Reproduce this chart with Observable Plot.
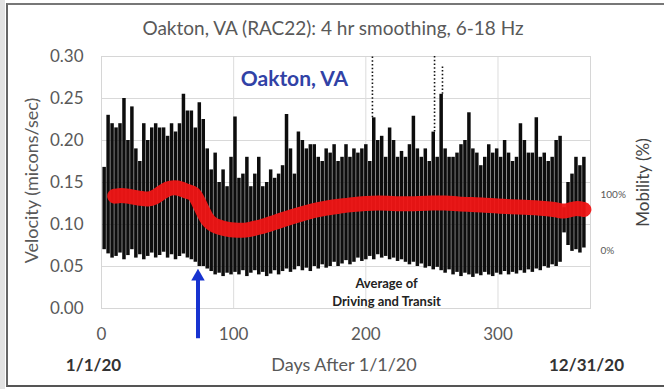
<!DOCTYPE html>
<html><head><meta charset="utf-8">
<script src="https://cdn.jsdelivr.net/npm/d3@7"></script>
<script src="https://cdn.jsdelivr.net/npm/@observablehq/plot@0.6"></script>
<style>
body{margin:0;background:#fff;}
#wrap{position:relative;width:664px;height:389px;overflow:hidden;background:#fff;}
#strip{position:absolute;left:0;top:0;width:5px;height:389px;background:#e2e2e2;}
#border{position:absolute;left:6px;top:3px;width:670px;height:384px;box-sizing:border-box;border-left:2px solid #666;border-top:2px solid #777;border-bottom:2px solid #555;}
#wrap svg{position:absolute;left:0;top:0;}
</style></head><body><div id="wrap"><div id="strip"></div><div id="border"></div></div>
<script>
// ---- data ----
const titleText = "Oakton, VA (RAC22): 4 hr smoothing, 6-18 Hz";
const placeLabel = "Oakton, VA";
const noteText = "Average of\nDriving and Transit";
const xLabel = "Days After 1/1/20";
const yLabel = "Velocity (micons/sec)";
const y2Label = "Mobility (%)";
const startLabel = "1/1/20";
const endLabel = "12/31/20";
const xTicks = [0, 100, 200, 300];
const yTicks = [0, 0.05, 0.10, 0.15, 0.20, 0.25, 0.30];
const mobTicks = [0, 100];
const mobTickLabels = ["0%", "100%"];
// right axis alignment: velocity at 0% and 100% mobility
const mob0 = 0.069, mob100 = 0.135;

// black 4-hr velocity trace: envelope per 3-day bin
const days = [2,5,8,11,14,17,20,23,26,29,32,35,38,41,44,47,50,53,56,59,62,65,68,71,74,
  77,80,83,86,89,92,95,98,101,
  104,107,110,113,116,119,122,125,128,131,134,137,140,143,146,149,152,155,158,161,164,167,170,173,176,179,182,185,188,191,194,197,200,
  203,206,209,212,215,218,221,224,227,230,
  233,236,239,242,245,248,251,254,257,260,263,266,269,272,275,278,281,284,287,290,293,296,299,302,305,308,311,314,317,320,323,326,329,332,
  335,338,341,344,347,
  350,353,356,359,362,365];
const hi = [0.168,0.23,0.22,0.215,0.22,0.25,0.20,0.24,0.19,0.175,0.22,0.20,0.215,0.22,0.215,0.215,0.205,0.22,0.21,0.22,0.255,0.235,0.235,0.215,0.245,
  0.225,0.19,0.165,0.185,0.15,0.165,0.145,0.18,0.228,
  0.155,0.16,0.18,0.145,0.16,0.18,0.145,0.15,0.165,0.155,0.16,0.17,0.231,0.19,0.16,0.21,0.20,0.19,0.195,0.195,0.18,0.175,0.19,0.185,0.195,0.175,0.18,0.195,0.18,0.19,0.185,0.19,0.195,
  0.175,0.227,0.20,0.205,0.18,0.215,0.20,0.18,0.187,0.18,
  0.195,0.229,0.19,0.18,0.19,0.175,0.21,0.18,0.255,0.19,0.18,0.18,0.185,0.195,0.2,0.233,0.19,0.185,0.17,0.18,0.195,0.185,0.19,0.18,0.2,0.185,0.175,0.18,0.22,0.2,0.185,0.185,0.227,0.18,
  0.185,0.175,0.18,0.2,0.205,
  0.12,0.15,0.16,0.18,0.17,0.18];
const lo = [0.07,0.065,0.06,0.062,0.066,0.058,0.063,0.07,0.06,0.064,0.058,0.062,0.066,0.06,0.063,0.067,0.06,0.064,0.058,0.062,0.065,0.06,0.058,0.055,0.05,
  0.05,0.047,0.044,0.04,0.042,0.038,0.042,0.04,0.043,
  0.04,0.045,0.038,0.042,0.045,0.04,0.043,0.038,0.041,0.045,0.04,0.044,0.047,0.043,0.046,0.05,0.045,0.048,0.044,0.05,0.047,0.052,0.048,0.05,0.055,0.05,0.053,0.057,0.052,0.055,0.06,0.056,0.058,
  0.062,0.058,0.064,0.06,0.062,0.058,0.06,0.056,0.058,0.055,
  0.052,0.055,0.05,0.053,0.048,0.05,0.046,0.049,0.045,0.042,0.046,0.04,0.043,0.038,0.042,0.04,0.037,0.041,0.039,0.043,0.04,0.038,0.042,0.04,0.044,0.04,0.043,0.041,0.045,0.042,0.046,0.043,0.047,0.045,
  0.05,0.048,0.052,0.05,0.055,
  0.09,0.075,0.068,0.07,0.066,0.072];

// isolated dotted spikes
const spikeDays = [205, 252, 258];
const spikeBase = [0.227, 0.21, 0.255];
const spikeTop = [0.30, 0.30, 0.29];

// red mobility (average of driving and transit), %
const mobDays = [10,15,20,25,30,35,40,45,50,55,60,65,70,73,76,80,84,88,92,96,100,106,112,120,
  130,140,150,160,170,180,190,200,210,220,230,240,250,260,270,280,290,300,310,320,330,340,345,350,355,360,365];
const mobility = [98,100,98,96,94,92,95,104,112,114,112,106,104,90,75,55,47,43,40,38,37,36,38,42,
  50,58,65,72,77,80,83,85,86,85,84,85,86,86,84,83,82,80,79,78,77,75,73,70,74,77,74];

// lockdown arrow
const arrowDay = 73;
const arrowTip = 0.038, arrowTail = -0.036;

const toV = m => mob0 + m / 100 * (mob100 - mob0);
const grey = "#595959";

const chart = Plot.plot({
  width: 664, height: 389,
  marginLeft: 101, marginRight: 74, marginTop: 56, marginBottom: 81,
  style: {fontFamily: "Lato, 'Open Sans', sans-serif", fontSize: "17px", color: grey, background: "transparent", overflow: "visible"},
  x: {domain: [0, 370]},
  y: {domain: [0, 0.30]},
  marks: [
    Plot.gridY(yTicks, {stroke: "#d9d9d9", strokeOpacity: 1}),
    Plot.gridX(xTicks.slice(1), {stroke: "#dcdcdc", strokeOpacity: 1}),
    Plot.frame({stroke: "#d6d6d6"}),
    Plot.ruleX(days, {x: d => d, y1: (d, i) => lo[i], y2: (d, i) => hi[i], stroke: "#0d0d0d", strokeWidth: 3.5}),
    Plot.ruleX(spikeDays, {x: d => d, y1: (d, i) => spikeBase[i], y2: (d, i) => spikeTop[i], stroke: "#111", strokeWidth: 1.6, strokeDasharray: "1.5,2.2"}),
    Plot.line(mobDays, {x: d => d, y: (d, i) => toV(mobility[i]), stroke: "#f01515", strokeWidth: 15, curve: "basis", strokeOpacity: 0.95}),
    Plot.axisY(yTicks, {tickSize: 0, tickPadding: 18, tickFormat: d => d.toFixed(2), label: null}),
    Plot.axisY(mobTicks.map(toV), {anchor: "right", tickSize: 0, tickPadding: 10, fontSize: 10, tickFormat: (d) => mobTickLabels[mobTicks.map(toV).indexOf(d)], label: null}),
    Plot.axisX(xTicks, {tickSize: 0, tickPadding: 19, label: null}),
    Plot.ruleX([arrowDay], {x: d => d, y1: arrowTail, y2: arrowTip, stroke: "#1733d0", strokeWidth: 4}),
    Plot.dot([arrowDay], {x: d => d, y: arrowTip, symbol: "triangle", r: 5, fill: "#1733d0", stroke: "none"}),
    Plot.text([titleText], {text: d => d, frameAnchor: "top", dx: -13, dy: -28, fontSize: 19, lineAnchor: "middle", fill: grey}),
    Plot.text([placeLabel], {text: d => d, frameAnchor: "top-left", dx: 193, dy: 23, fontSize: 21, fontWeight: "bold", fill: "#3142a6", textAnchor: "middle", lineAnchor: "middle"}),
    Plot.text([noteText], {text: d => d, frameAnchor: "bottom-left", dx: 285, dy: -17, fontSize: 13, fontWeight: "bold", fill: "#222", textAnchor: "middle", lineAnchor: "middle", lineHeight: 1.38}),
    Plot.text([yLabel], {text: d => d, frameAnchor: "left", dx: -69, dy: -2, rotate: -90, fontSize: 18, fill: grey, textAnchor: "middle", lineAnchor: "middle"}),
    Plot.text([y2Label], {text: d => d, frameAnchor: "right", dx: 53, dy: 0, rotate: -90, fontSize: 17, fill: "#444", textAnchor: "middle", lineAnchor: "middle"}),
    Plot.text([startLabel], {text: d => d, frameAnchor: "bottom-left", dx: -8, dy: 57, fontSize: 17, fontWeight: "bold", fill: "#333", textAnchor: "middle", lineAnchor: "middle"}),
    Plot.text([endLabel], {text: d => d, frameAnchor: "bottom-right", dx: -4, dy: 57, fontSize: 17, fontWeight: "bold", fill: "#333", textAnchor: "middle", lineAnchor: "middle"}),
    Plot.text([xLabel], {text: d => d, frameAnchor: "bottom", dx: -2, dy: 57, fontSize: 18, fill: grey, textAnchor: "middle", lineAnchor: "middle"})
  ]
});
document.getElementById("wrap").appendChild(chart);
</script>
</body></html>
